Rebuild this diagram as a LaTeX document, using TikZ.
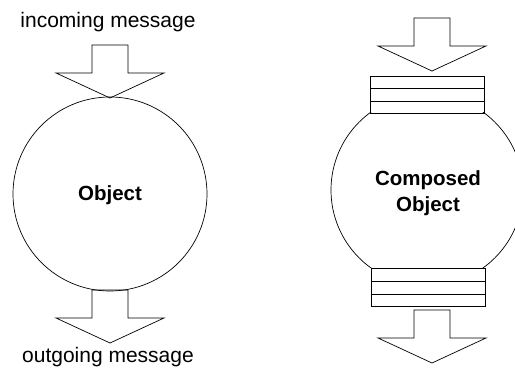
\documentclass[tikz,border=0pt]{standalone}
\usepackage{fontspec}
\setmainfont{Liberation Sans}
\begin{document}
\begin{tikzpicture}[x=1pt,y=-1pt,
  line width=0.7pt,
  lbl/.style={font=\fontsize{21}{25}\selectfont, inner sep=0pt},
  blbl/.style={font=\fontsize{20.5}{25}\selectfont\bfseries, inner sep=0pt, align=center},
  blockarrow/.pic={\draw[line join=miter] (-18,0) -- (18,0) -- (18,28) -- (54,28) -- (0,53) -- (-54,28) -- (-18,28) -- cycle;}
]
\useasboundingbox (0,0) rectangle (515,374);
% left: simple object
\node[lbl] (inmsg) at (108,22) {incoming message};
\pic at (110,45) {blockarrow};
\node[draw, circle, minimum size=194pt, inner sep=0pt, line width=0.7pt] (obj) at (110,194) {};
\node[blbl] (objlbl) at (110,195.5) {Object};
\pic at (110,290) {blockarrow};
\node[lbl] (outmsg) at (108,357) {outgoing message};
% right: composed object
\pic at (432,18) {blockarrow};
\begin{scope}
  \clip (300,113) rectangle (600,268);
  \draw (427,190) circle[radius=96];
\end{scope}
\draw (370,76) rectangle (484,113);
\draw (370,88) -- (484,88);
\draw (370,101) -- (484,101);
\draw (371,268) rectangle (485,306);
\draw (371,281) -- (485,281);
\draw (371,294) -- (485,294);
\node[blbl] (comp) at (428,193.5) {Composed\\[1pt]Object};
\pic at (432,310) {blockarrow};
\end{tikzpicture}
\end{document}
